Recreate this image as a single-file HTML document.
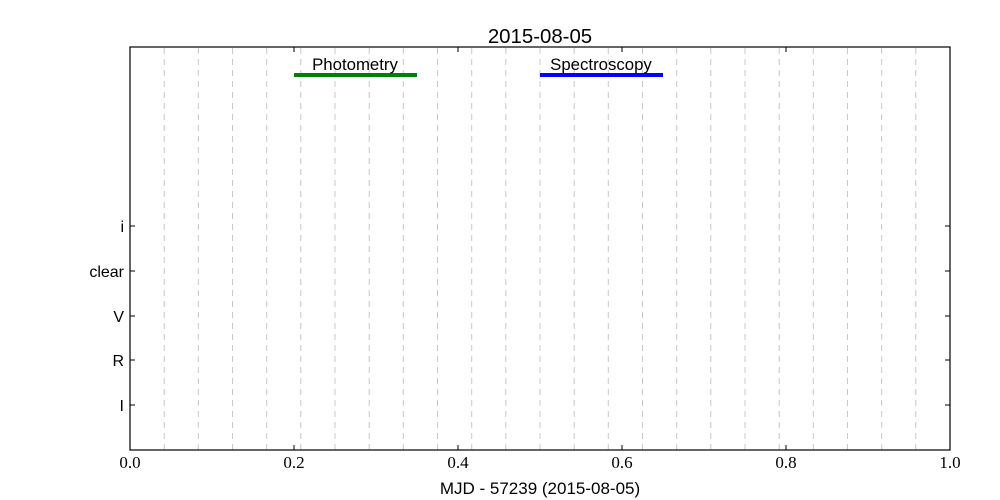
<!DOCTYPE html>
<html><head><meta charset="utf-8"><style>body{margin:0;background:#fff}svg{display:block}</style></head>
<body>
<svg width="1000" height="500" xmlns="http://www.w3.org/2000/svg">
<rect width="1000" height="500" fill="#fff"/>
<g stroke="#c8c8c8" stroke-width="1" stroke-dasharray="6,5">
<line x1="164.2" y1="48" x2="164.2" y2="450"/><line x1="198.3" y1="48" x2="198.3" y2="450"/><line x1="232.5" y1="48" x2="232.5" y2="450"/><line x1="266.7" y1="48" x2="266.7" y2="450"/><line x1="300.8" y1="48" x2="300.8" y2="450"/><line x1="335" y1="48" x2="335" y2="450"/><line x1="369.2" y1="48" x2="369.2" y2="450"/><line x1="403.3" y1="48" x2="403.3" y2="450"/><line x1="437.5" y1="48" x2="437.5" y2="450"/><line x1="471.7" y1="48" x2="471.7" y2="450"/><line x1="505.8" y1="48" x2="505.8" y2="450"/><line x1="540" y1="48" x2="540" y2="450"/><line x1="574.2" y1="48" x2="574.2" y2="450"/><line x1="608.3" y1="48" x2="608.3" y2="450"/><line x1="642.5" y1="48" x2="642.5" y2="450"/><line x1="676.7" y1="48" x2="676.7" y2="450"/><line x1="710.8" y1="48" x2="710.8" y2="450"/><line x1="745" y1="48" x2="745" y2="450"/><line x1="779.2" y1="48" x2="779.2" y2="450"/><line x1="813.3" y1="48" x2="813.3" y2="450"/><line x1="847.5" y1="48" x2="847.5" y2="450"/><line x1="881.7" y1="48" x2="881.7" y2="450"/><line x1="915.8" y1="48" x2="915.8" y2="450"/>
</g>
<line x1="294" y1="75" x2="417" y2="75" stroke="#008000" stroke-width="4"/>
<line x1="540" y1="75" x2="663" y2="75" stroke="#0000ff" stroke-width="4"/>
<g font-family="Liberation Sans, sans-serif" font-size="16.8" fill="#000" text-anchor="middle">
<text x="355" y="70">Photometry</text>
<text x="601" y="70">Spectroscopy</text>
<text x="540" y="43" font-size="20.4">2015-08-05</text>
<text x="540" y="494" font-size="17">MJD - 57239 (2015-08-05)</text>
</g>
<g font-family="Liberation Sans, sans-serif" font-size="16" fill="#000" text-anchor="end">
<text x="124" y="232">i</text>
<text x="124" y="277">clear</text>
<text x="124" y="322">V</text>
<text x="124" y="366">R</text>
<text x="124" y="411">I</text>
</g>
<g font-family="Liberation Serif, serif" font-size="17" fill="#000" text-anchor="middle">
<text x="130" y="468">0.0</text><text x="294" y="468">0.2</text><text x="458" y="468">0.4</text><text x="622" y="468">0.6</text><text x="786" y="468">0.8</text><text x="950" y="468">1.0</text>
</g>
<g stroke="#000" stroke-width="1">
<path d="M130 226h5M130 271h5M130 316h5M130 360h5M130 405h5M950 226h-5M950 271h-5M950 316h-5M950 360h-5M950 405h-5"/>
<path d="M294 450v-5M458 450v-5M622 450v-5M786 450v-5M294 47v5M458 47v5M622 47v5M786 47v5"/>
</g>
<rect x="130" y="47" width="820" height="403" fill="none" stroke="#000" stroke-width="1.2"/>
</svg>
</body></html>
